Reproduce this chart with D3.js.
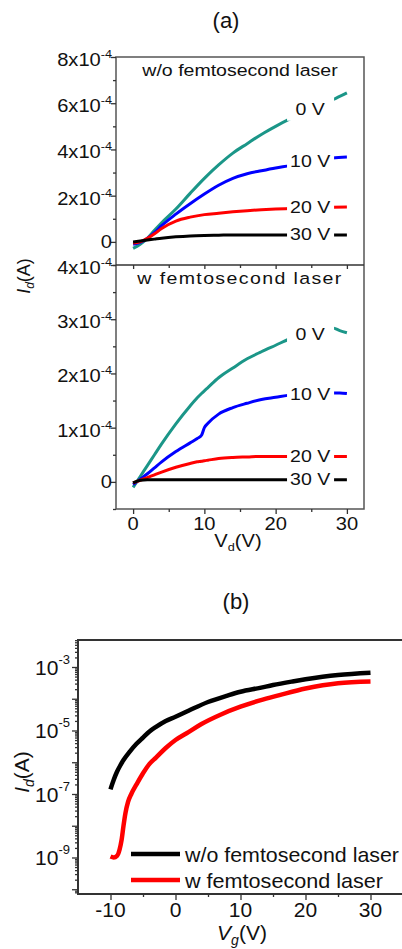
<!DOCTYPE html>
<html>
<head>
<meta charset="utf-8">
<script src="https://cdn.jsdelivr.net/npm/d3@7"></script>
<style>
body { margin: 0; background: #fff; }
svg { display: block; font-family: Arial, "Liberation Sans", sans-serif; }
</style>
</head>
<body>
<div id="chart"></div>
<script>
// (a) output curves, Vd in V, Id in units of 1e-4 A
var gateLabels = ["0 V", "10 V", "20 V", "30 V"]
var curveColors = ["#1b9688", "#0000ff", "#ff0000", "#000000"]

var vdWo = [0, 1, 2, 3, 4, 6, 8, 10, 12, 14, 16, 18, 20, 22, 24, 26, 28, 30]
var woG0 = [-0.28, -0.1, 0.15, 0.5, 0.83, 1.42, 2.1, 2.75, 3.33, 3.84, 4.25, 4.65, 5.0, 5.32, 5.6, 5.88, 6.15, 6.45]
var woG10 = [-0.1, -0.02, 0.15, 0.4, 0.7, 1.2, 1.65, 2.07, 2.45, 2.75, 2.95, 3.08, 3.2, 3.3, 3.42, 3.53, 3.63, 3.67]
var woG20 = [-0.05, 0.0, 0.15, 0.35, 0.58, 0.9, 1.07, 1.18, 1.24, 1.3, 1.35, 1.39, 1.42, 1.44, 1.46, 1.48, 1.5, 1.51]
var woG30 = [0.0, 0.04, 0.08, 0.12, 0.16, 0.22, 0.26, 0.28, 0.29, 0.3, 0.3, 0.3, 0.3, 0.3, 0.3, 0.3, 0.3, 0.3]

var vdW = [0, 1, 2, 3, 4, 6, 8, 9, 9.6, 10, 10.5, 12, 14, 16, 18, 20, 22, 24, 26, 28, 29, 30]
var wG0 = [-0.1, 0.1, 0.3, 0.5, 0.7, 1.07, 1.4, 1.55, 1.63, 1.68, 1.74, 1.92, 2.1, 2.27, 2.4, 2.52, 2.64, 2.72, 2.78, 2.84, 2.79, 2.75]
var wG10 = [-0.05, 0.05, 0.15, 0.26, 0.37, 0.56, 0.72, 0.8, 0.86, 1.0, 1.08, 1.25, 1.37, 1.45, 1.52, 1.56, 1.6, 1.62, 1.63, 1.64, 1.64, 1.63]
var wG20 = [-0.02, 0.03, 0.08, 0.13, 0.18, 0.27, 0.34, 0.37, 0.38, 0.39, 0.4, 0.43, 0.45, 0.46, 0.47, 0.47, 0.47, 0.47, 0.47, 0.47, 0.47, 0.47]
var wG30 = [-0.02, 0.03, 0.04, 0.04, 0.04, 0.04, 0.04, 0.04, 0.04, 0.04, 0.04, 0.04, 0.04, 0.04, 0.04, 0.04, 0.04, 0.04, 0.04, 0.04, 0.04, 0.04]

var xTicksA = [0, 10, 20, 30]
var yTicksTop = [0, 2, 4, 6, 8]
var yTicksBot = [0, 1, 2, 3, 4]

// (b) transfer curves, Vg in V, Id in A
var vgWo = [-10, -9.5, -9, -8.5, -8, -7, -6, -5, -4, -3, -1.5, 0, 2, 5, 8, 10, 13, 15, 18, 20, 25, 30]
var idWo = [1.4e-7, 2.8e-7, 5.0e-7, 7.9e-7, 1.17e-6, 2.2e-6, 3.8e-6, 6.0e-6, 9.3e-6, 1.3e-5, 2.0e-5, 2.7e-5, 4.2e-5, 7.9e-5, 1.26e-4, 1.66e-4, 2.2e-4, 2.7e-4, 3.5e-4, 4.1e-4, 5.6e-4, 6.6e-4]
var vgW = [-10, -9.5, -9, -8.6, -8.3, -8.0, -7.7, -7.3, -6.8, -6, -5, -4, -3, -1.5, 0, 2, 4, 7, 10, 13, 16, 20, 25, 30]
var idW = [1.07e-9, 1.0e-9, 1.12e-9, 1.78e-9, 3.5e-9, 1.0e-8, 2.5e-8, 5.6e-8, 1.0e-7, 2.0e-7, 4.5e-7, 8.9e-7, 1.4e-6, 2.8e-6, 5.0e-6, 8.9e-6, 1.6e-5, 3.2e-5, 5.6e-5, 8.9e-5, 1.3e-4, 2.1e-4, 3.1e-4, 3.5e-4]
var legendB = ["w/o femtosecond laser", "w femtosecond laser"]
var xTicksB = [-10, 0, 10, 20, 30]
var yLabelExpB = [-3, -5, -7, -9]

var width = 402, height = 949
var svg = d3.select("#chart").append("svg")
	.attr("width", width)
	.attr("height", height)

var axisColor = "#333"
var sx = 1.15 // panel (a) text looks stretched sideways

function addText(g, x, y, size, anchor, stretch) {
	return g.append("text")
		.attr("transform", "translate(" + x + "," + y + ") scale(" + stretch + ",1)")
		.attr("text-anchor", anchor)
		.style("font-size", size + "px")
		.attr("fill", "#111")
}

function zip(xs, ys) {
	return xs.map(function(d, i) { return [d, ys[i]] })
}

// ---------------- panel (a)
var xA = d3.scaleLinear().domain([-2.4, 32.4]).range([116, 364])
var yTop = d3.scaleLinear().domain([-1, 8]).range([265, 57])
var yBot = d3.scaleLinear().domain([-0.5, 4]).range([509, 265])

var ga = svg.append("g")

addText(ga, 226, 28, 22, "middle", 1).text("(a)")

function drawSub(yScale, vd, series, title, titleY, spacing) {
	var line = d3.line()
		.x(function(d) { return xA(d[0]) })
		.y(function(d) { return yScale(d[1]) })
		.curve(d3.curveMonotoneX)

	series.forEach(function(s, i) {
		ga.append("path")
			.datum(zip(vd, s))
			.attr("d", line)
			.attr("fill", "none")
			.attr("stroke", curveColors[i])
			.attr("stroke-width", 3)
			.attr("stroke-linejoin", "round")
	})

	// labels sit on white boxes that cut the curves
	var x0 = 21.6, x1 = 28.2
	series.forEach(function(s, i) {
		var a = d3.scaleLinear().domain(vd).range(s)
		var yc = (yScale(a(x0)) + yScale(a(x1))) / 2
		ga.append("rect")
			.attr("x", xA(x0))
			.attr("y", yc - 13)
			.attr("width", xA(x1) - xA(x0))
			.attr("height", 24)
			.attr("fill", "#fff")
		addText(ga, xA(24.85), yc + 5.5, 17, "middle", sx).text(gateLabels[i])
	})

	addText(ga, 240, titleY, 17, "middle", sx)
		.style("letter-spacing", spacing + "px")
		.text(title)
}

drawSub(yTop, vdWo, [woG0, woG10, woG20, woG30], "w/o femtosecond laser", 76, 0)
drawSub(yBot, vdW, [wG0, wG10, wG20, wG30], "w femtosecond laser", 284, 1.2)

// frame
ga.append("rect")
	.attr("x", xA.range()[0])
	.attr("y", yTop.range()[1])
	.attr("width", xA.range()[1] - xA.range()[0])
	.attr("height", yBot.range()[0] - yTop.range()[1])
	.attr("fill", "none")
	.attr("stroke", "#555")
	.attr("stroke-width", 1.5)
ga.append("line")
	.attr("x1", xA.range()[0]).attr("x2", xA.range()[1])
	.attr("y1", yTop.range()[0]).attr("y2", yTop.range()[0])
	.attr("stroke", axisColor).attr("stroke-width", 1.5)

function tickAxis(g, axis) {
	g.call(axis)
	g.select(".domain").remove()
	g.selectAll(".tick line").attr("stroke", axisColor).attr("stroke-width", 1.3)
	g.selectAll(".tick text").remove()
}

// left ticks
tickAxis(ga.append("g").attr("transform", "translate(116,0)"),
	d3.axisLeft(yTop).tickValues(yTicksTop).tickSize(5))
tickAxis(ga.append("g").attr("transform", "translate(116,0)"),
	d3.axisLeft(yTop).tickValues([-1, 1, 3, 5, 7]).tickSize(3))
tickAxis(ga.append("g").attr("transform", "translate(116,0)"),
	d3.axisLeft(yBot).tickValues(yTicksBot).tickSize(5))
tickAxis(ga.append("g").attr("transform", "translate(116,0)"),
	d3.axisLeft(yBot).tickValues([-0.5, 0.5, 1.5, 2.5, 3.5]).tickSize(3))
// bottom ticks
tickAxis(ga.append("g").attr("transform", "translate(0,509)"),
	d3.axisBottom(xA).tickValues(xTicksA).tickSize(5))
tickAxis(ga.append("g").attr("transform", "translate(0,509)"),
	d3.axisBottom(xA).tickValues([5, 15, 25]).tickSize(3))
tickAxis(ga.append("g").attr("transform", "translate(0,265)"),
	d3.axisBottom(xA).tickValues(xTicksA).tickSize(4))
tickAxis(ga.append("g").attr("transform", "translate(0,265)"),
	d3.axisBottom(xA).tickValues([5, 15, 25]).tickSize(3))

function yLabelA(yScale, v) {
	var y = yScale(v)
	if (v === 0) {
		addText(ga, 112, y + 6, 17.5, "end", sx).text("0")
		return
	}
	var t = addText(ga, 112, y + 9, 17.5, "end", sx)
	t.append("tspan").text(v + "x10")
	t.append("tspan").attr("dy", -8).style("font-size", "11px").text("-4")
}
yTicksTop.forEach(function(v) { yLabelA(yTop, v) })
yTicksBot.forEach(function(v) { yLabelA(yBot, v) })

xTicksA.forEach(function(v) {
	addText(ga, xA(v), 530, 17.5, "middle", sx).text(v)
})

var vdLab = addText(ga, 238, 547, 17.5, "middle", sx)
vdLab.append("tspan").text("V")
vdLab.append("tspan").attr("dy", 4).style("font-size", "11px").text("d")
vdLab.append("tspan").attr("dy", -4).text("(V)")

var idLabA = ga.append("text")
	.attr("transform", "translate(30,276) rotate(-90)")
	.attr("text-anchor", "middle")
	.style("font-size", "18px")
	.attr("fill", "#111")
idLabA.append("tspan").style("font-style", "italic").text("I")
idLabA.append("tspan").attr("dy", 4).style("font-size", "12px").style("font-style", "italic").text("d")
idLabA.append("tspan").attr("dy", -4).text("(A)")

// ---------------- panel (b)
var xB = d3.scaleLinear().domain([-15, 35]).range([78, 403])
var yB = d3.scaleLog().domain([Math.pow(10, -10.15), Math.pow(10, -2.15)]).range([894, 640])

var gb = svg.append("g")

addText(gb, 236, 609, 22, "middle", 1).text("(b)")

var lineB = d3.line()
	.x(function(d) { return xB(d[0]) })
	.y(function(d) { return yB(d[1]) })
	.curve(d3.curveMonotoneX)

gb.append("path").datum(zip(vgWo, idWo)).attr("d", lineB)
	.attr("fill", "none").attr("stroke", "#000").attr("stroke-width", 4.5).attr("stroke-linejoin", "round")
gb.append("path").datum(zip(vgW, idW)).attr("d", lineB)
	.attr("fill", "none").attr("stroke", "#ff0000").attr("stroke-width", 4.5).attr("stroke-linejoin", "round")

// axes lines
gb.append("path")
	.attr("d", "M" + 403 + "," + 640 + "H78V894H403")
	.attr("fill", "none")
	.attr("stroke", axisColor)
	.attr("stroke-width", 2)

var majorB = d3.range(-10, -2).map(function(e) { return Math.pow(10, e) })
var minorB = []
d3.range(-11, -2).forEach(function(e) {
	for (var k = 2; k < 10; k++) {
		var v = k * Math.pow(10, e)
		if (v > yB.domain()[0] && v < yB.domain()[1]) minorB.push(v)
	}
})
tickAxis(gb.append("g").attr("transform", "translate(78,0)"),
	d3.axisLeft(yB).tickValues(majorB).tickSize(6))
tickAxis(gb.append("g").attr("transform", "translate(78,0)"),
	d3.axisLeft(yB).tickValues(minorB).tickSize(3))
tickAxis(gb.append("g").attr("transform", "translate(0,894)"),
	d3.axisBottom(xB).tickValues(xTicksB).tickSize(6))
tickAxis(gb.append("g").attr("transform", "translate(0,894)"),
	d3.axisBottom(xB).tickValues([-5, 5, 15, 25]).tickSize(3))

yLabelExpB.forEach(function(e) {
	var t = addText(gb, 70, yB(Math.pow(10, e)) + 8, 21, "end", 1)
	t.append("tspan").text("10")
	t.append("tspan").attr("dy", -11).style("font-size", "13px").text(e)
})

xTicksB.forEach(function(v) {
	addText(gb, xB(v), 917, 21, "middle", 1).text(v)
})

var vgLab = addText(gb, 242, 940, 21, "middle", 1)
vgLab.append("tspan").style("font-style", "italic").text("V")
vgLab.append("tspan").attr("dy", 5).style("font-size", "14px").style("font-style", "italic").text("g")
vgLab.append("tspan").attr("dy", -5).text("(V)")

var idLabB = gb.append("text")
	.attr("transform", "translate(29,772) rotate(-90)")
	.attr("text-anchor", "middle")
	.style("font-size", "21px")
	.attr("fill", "#111")
idLabB.append("tspan").style("font-style", "italic").text("I")
idLabB.append("tspan").attr("dy", 5).style("font-size", "14px").style("font-style", "italic").text("d")
idLabB.append("tspan").attr("dy", -5).text("(A)")

// legend
var legColors = ["#000", "#ff0000"]
var legWidths = [214, 198]
legendB.forEach(function(name, i) {
	var y = 854 + i * 26
	gb.append("line")
		.attr("x1", 131).attr("x2", 180)
		.attr("y1", y).attr("y2", y)
		.attr("stroke", legColors[i]).attr("stroke-width", 4.5)
	addText(gb, 185, y + 8, 21, "start", 1)
		.attr("textLength", legWidths[i])
		.attr("lengthAdjust", "spacingAndGlyphs")
		.text(name)
})
</script>
</body>
</html>
